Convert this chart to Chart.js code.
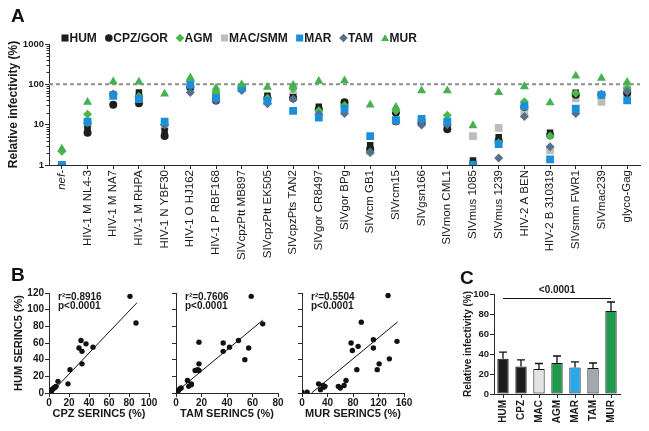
<!DOCTYPE html>
<html><head><meta charset="utf-8">
<script src="https://cdn.jsdelivr.net/npm/chart.js@4.4.1/dist/chart.umd.min.js"></script>
<style>
html,body{margin:0;padding:0;background:#fff;}
#wrap{position:relative;width:649px;height:431px;overflow:hidden;font-family:'Liberation Sans',Arial,sans-serif;}
canvas{position:absolute;}
.pl{position:absolute;font-weight:bold;font-size:19px;color:#111;line-height:1;}
</style></head><body>
<div id="wrap">
<canvas id="cA" width="649" height="262" style="left:0;top:0;width:649px;height:262px"></canvas>
<canvas id="cB1" width="165" height="169" style="left:0;top:262px;width:165px;height:169px"></canvas>
<canvas id="cB2" width="125" height="169" style="left:165px;top:262px;width:125px;height:169px"></canvas>
<canvas id="cB3" width="140" height="169" style="left:290px;top:262px;width:140px;height:169px"></canvas>
<canvas id="cC" width="219" height="169" style="left:430px;top:262px;width:219px;height:169px"></canvas>
<div class="pl" style="left:11px;top:6px">A</div>
<div class="pl" style="left:11px;top:265px">B</div>
<div class="pl" style="left:460px;top:268px">C</div>
</div>
<script>
// ---------- Panel A data ----------
const categoriesA = ['nef-','HIV-1 M NL4-3','HIV-1 M NA7','HIV-1 M RHPA','HIV-1 N YBF30','HIV-1 O HJ162','HIV-1 P RBF168','SIVcpzPtt MB897','SIVcpzPtt EK505','SIVcpzPts TAN2','SIVgor CR8497','SIVgor BPg','SIVrcm GB1','SIVrcm15','SIVgsn166','SIVmon CML1','SIVmus 1085','SIVmus 1239','HIV-2 A BEN','HIV-2 B 310319','SIVsmm FWR1','SIVmac239','glyco-Gag'];
const yTicksA = [1, 10, 100, 1000];
const refLineA = 100;
const HUM = [1, 7.8, 55, 63, 7, 110, 55, 84, 52, 48, 28, 35, 3.1, 12, 12, 9, 1.3, 4.9, 30, 6.3, 62, 55, 70];
const CPZ_GOR = [1, 6.3, 31, 34, 5.2, 85, 40, 80, 45, 45, 24, 36, 2.5, 20, 11, 7.7, 1.1, 4, 28, 5.5, 55, 55, 60];
const AGM = [2.2, 18, 55, 50, 10, 120, 65, 95, 45, 78, 22, 30, 2, 22, 13, 17, 1, 3.5, 37, 5.2, 60, 55, 80];
const MAC_SMM = [1, 10, 55, 48, 9, 85, 50, 85, 40, 54, 20, 30, 2.2, 13, 12, 11, 5.2, 8.3, 21, 2.3, 45, 37, 80];
const MAR = [1, 11.9, 52, 43, 11.9, 97, 46, 80, 39, 22, 15, 25, 5.2, 13, 14, 11.9, 1, 3.3, 29, 1.38, 25, 55, 40];
const TAM = [1, 11, 58, 45, 10, 63, 40, 70, 33, 43, 18, 19, 2.1, 12, 9.8, 10, 1, 1.5, 16, 2.85, 19, 57, 66];
const MUR = [2.5, 36, 117, 115, 58, 145, 81, 98, 85, 95, 120, 123, 31, 27, 70, 70, 9.5, 63, 88, 35, 162, 142, 113];

// ---------- Panel B data ----------
const cpzB  = [81, 87, 32, 37, 30, 33, 44, 33, 21, 9, 19, 7, 6, 5, 4, 3, 2, 1, 0.5, 0, 1.5, 2.5];
const humB1 = [116, 84, 63, 59, 54, 50, 55, 35, 28, 14, 11, 8, 7, 6, 5, 4, 3, 2, 1, 0, 1.5, 2.5];
const tamB  = [59, 68, 18, 37, 49, 42, 37, 57, 54, 18, 15, 17, 18, 9, 10, 12, 12, 1, 2, 3, 4, 1];
const humB2 = [116, 83, 61, 60, 63, 55, 50, 54, 40, 35, 27, 28, 27, 15, 8, 10, 11, 1, 3, 5, 6, 2];
const murB  = [135, 93, 77, 112, 149, 88, 79, 112, 137, 121, 118, 86, 69, 66, 57, 60, 0, 8, 26, 29, 34, 36, 33];
const humB3 = [117, 85, 60, 64, 62, 56, 51, 54, 41, 35, 28, 28, 15, 9, 8, 6, 1, 1, 11, 4, 7, 8, 9];
const fitCPZ = [1.26, -2.5, 1, 88];   // slope, intercept, x from, x to
const fitTAM = [1.27, 1, 0, 68];
const fitMUR = [0.632, -9.5, 15, 150];
const statsCPZ = ['r\u00B2=0.8916', 'p<0.0001'];
const statsTAM = ['r\u00B2=0.7606', 'p<0.0001'];
const statsMUR = ['r\u00B2=0.5504', 'p<0.0001'];
const yTicksB = [0, 20, 40, 60, 80, 100, 120];

// ---------- Panel C data ----------
const barLabelsC = ['HUM', 'CPZ', 'MAC', 'AGM', 'MAR', 'TAM', 'MUR'];
const barValuesC = [35.3, 27.6, 25, 31, 26.6, 26, 83];
const barErrorsC = [6.5, 6.5, 5.5, 7, 5.5, 5, 9];
const sigLevelC = 96;
const sigTextC = '<0.0001';

// ---------- styles ----------
Chart.defaults.font.family = "'Liberation Sans', Arial, sans-serif";
Chart.defaults.color = '#1a1a1a';
const AX = '#2a2a2a';

const seriesA = [
  {name: 'HUM', data: HUM, shape: 'rect', r: 4.6, color: '#1e1e1e', order: 4},
  {name: 'CPZ/GOR', data: CPZ_GOR, shape: 'circle', r: 4, color: '#1e1e1e', order: 5},
  {name: 'AGM', data: AGM, shape: 'rectRot', r: 4.5, color: '#4cb84a', order: 3},
  {name: 'MAC/SMM', data: MAC_SMM, shape: 'rect', r: 5.5, color: '#bdbdbd', order: 6},
  {name: 'MAR', data: MAR, shape: 'rect', r: 5.5, color: '#1b8fd8', order: 1},
  {name: 'TAM', data: TAM, shape: 'rectRot', r: 4.5, color: '#56708c', order: 2},
  {name: 'MUR', data: MUR, shape: 'triangle', r: 5.2, color: '#45b14f', order: 0}
];

function drawMarker(ctx, shape, x, y, r, color) {
  ctx.save();
  ctx.fillStyle = color;
  ctx.beginPath();
  if (shape === 'rect') {
    const s = r * Math.SQRT1_2;
    ctx.rect(x - s, y - s, 2 * s, 2 * s);
  } else if (shape === 'circle') {
    ctx.arc(x, y, r, 0, Math.PI * 2);
  } else if (shape === 'rectRot') {
    ctx.moveTo(x, y - r); ctx.lineTo(x + r, y); ctx.lineTo(x, y + r); ctx.lineTo(x - r, y);
  } else if (shape === 'triangle') {
    for (let k = 0; k < 3; k++) {
      const a = k * 2 * Math.PI / 3;
      const px = x + Math.sin(a) * r, py = y - Math.cos(a) * r;
      if (k === 0) ctx.moveTo(px, py); else ctx.lineTo(px, py);
    }
  }
  ctx.closePath();
  ctx.fill();
  ctx.restore();
}

const panelAPlugin = {
  id: 'panelA',
  beforeDatasetsDraw(chart) {
    const {ctx, chartArea, scales: {y}} = chart;
    const py = y.getPixelForValue(refLineA);
    ctx.save();
    ctx.strokeStyle = '#8c8c8c';
    ctx.lineWidth = 2;
    ctx.setLineDash([4, 3]);
    ctx.beginPath();
    ctx.moveTo(chartArea.left, py);
    ctx.lineTo(chartArea.right, py);
    ctx.stroke();
    ctx.restore();
  },
  afterDraw(chart) {
    const {ctx, chartArea, scales: {y}} = chart;
    // minor log ticks
    ctx.save();
    ctx.strokeStyle = AX;
    ctx.lineWidth = 1;
    ctx.beginPath();
    for (let d = 1; d < 1000; d *= 10) {
      for (let m = 2; m <= 9; m++) {
        const py = Math.round(y.getPixelForValue(m * d)) + 0.5;
        ctx.moveTo(chartArea.left - 2.5, py);
        ctx.lineTo(chartArea.left, py);
      }
    }
    ctx.stroke();
    // legend
    ctx.font = "bold 12px 'Liberation Sans', Arial, sans-serif";
    ctx.textBaseline = 'middle';
    ctx.fillStyle = '#1a1a1a';
    let x = 61.5;
    const ly = 38;
    seriesA.forEach(s => {
      const rr = s.shape === 'rect' ? 5 : (s.shape === 'circle' ? 3.8 : (s.shape === 'triangle' ? 4.6 : 4.3));
      drawMarker(ctx, s.shape, x + 3.5, ly + (s.shape === 'triangle' ? 0.8 : 0), rr, s.color);
      ctx.fillStyle = '#1a1a1a';
      ctx.fillText(s.name, x + 8, ly + 0.5);
      x += 8 + ctx.measureText(s.name).width + 8.5;
    });
    ctx.restore();
  }
};

new Chart(document.getElementById('cA'), {
  type: 'line',
  data: {
    labels: categoriesA,
    datasets: seriesA.map(s => ({
      label: s.name, data: s.data, showLine: false, order: s.order,
      pointStyle: s.shape, pointRadius: s.r, pointHoverRadius: s.r,
      backgroundColor: s.color, borderColor: s.color, pointBorderWidth: 0, borderWidth: 0
    }))
  },
  options: {
    responsive: false, animation: false,
    layout: {padding: {top: 44, right: 9, left: 0, bottom: 0}},
    plugins: {legend: {display: false}, tooltip: {enabled: false}},
    scales: {
      x: {
        type: 'category', offset: true,
        grid: {display: true, drawOnChartArea: false, drawTicks: true, tickLength: 4, color: AX, offset: false},
        border: {display: true, color: AX, width: 1},
        ticks: {autoSkip: false, minRotation: 90, maxRotation: 90, padding: 1, color: '#1a1a1a',
          font: c => ({size: 11.5, style: c.index === 0 ? 'italic' : 'normal'})},
        afterFit: s => { s.height = 97; }
      },
      y: {
        type: 'logarithmic', min: 1, max: 1000,
        afterBuildTicks: s => { s.ticks = yTicksA.map(v => ({value: v})); },
        ticks: {callback: v => String(v), font: {size: 9.5, weight: 'bold'}, padding: 1, color: '#1a1a1a'},
        grid: {display: true, drawOnChartArea: false, tickLength: 4, color: AX},
        border: {display: true, color: AX, width: 1},
        title: {display: true, text: 'Relative infectivity (%)', font: {size: 12, weight: 'bold'}, padding: {top: 6, bottom: 0}, color: '#1a1a1a'},
        afterFit: s => { s.width = 49; }
      }
    }
  },
  plugins: [panelAPlugin]
});

// ---------- Panel B ----------
function statsPlugin(lines) {
  return {
    id: 'stats',
    afterDraw(chart) {
      const {ctx, chartArea} = chart;
      ctx.save();
      ctx.font = "bold 10px 'Liberation Sans', Arial, sans-serif";
      ctx.fillStyle = '#1a1a1a';
      ctx.textBaseline = 'alphabetic';
      ctx.fillText(lines[0], chartArea.left + 9, chartArea.top + 7);
      ctx.fillText(lines[1], chartArea.left + 9, chartArea.top + 16);
      ctx.restore();
    }
  };
}

function makeScatter(id, xs, ys, fit, stats, xMax, xStep, xTitle, showY, leftW, padRight) {
  const pts = xs.map((v, i) => ({x: v, y: ys[i]}));
  const fitPts = [fit[2], fit[3]].map(v => ({x: v, y: fit[0] * v + fit[1]}));
  new Chart(document.getElementById(id), {
    type: 'scatter',
    data: {datasets: [
      {data: pts, pointRadius: 2.7, pointHoverRadius: 2.7, backgroundColor: '#111', borderWidth: 0, order: 0},
      {data: fitPts, showLine: true, borderColor: '#111', borderWidth: 1, pointRadius: 0, order: 1}
    ]},
    options: {
      responsive: false, animation: false,
      layout: {padding: {top: 31, right: padRight, left: 0, bottom: 0}},
      plugins: {legend: {display: false}, tooltip: {enabled: false}},
      scales: {
        x: {
          type: 'linear', min: 0, max: xMax,
          ticks: {stepSize: xStep, font: {size: 10, weight: 'bold'}, padding: 0, color: '#1a1a1a', maxRotation: 0},
          grid: {display: true, drawOnChartArea: false, tickLength: 4, color: AX},
          border: {display: true, color: AX, width: 1},
          title: {display: true, text: xTitle, font: {size: 11, weight: 'bold'}, padding: {top: 0, bottom: 10.5}, color: '#1a1a1a'},
          afterFit: s => { s.height = 38; }
        },
        y: {
          type: 'linear', min: 0, max: 120,
          afterBuildTicks: s => { s.ticks = yTicksB.map(v => ({value: v})); },
          ticks: {callback: v => showY ? String(v) : '', font: {size: 10, weight: 'bold'}, padding: 1, color: '#1a1a1a'},
          grid: {display: true, drawOnChartArea: false, tickLength: 4, color: AX},
          border: {display: true, color: AX, width: 1},
          title: {display: showY, text: 'HUM SERINC5 (%)', font: {size: 11, weight: 'bold'}, padding: {top: 12, bottom: 0}, color: '#1a1a1a'},
          afterFit: s => { s.width = leftW; }
        }
      }
    },
    plugins: [statsPlugin(stats)]
  });
}

makeScatter('cB1', cpzB, humB1, fitCPZ, statsCPZ, 100, 20, 'CPZ SERINC5 (%)', true, 49, 16);
makeScatter('cB2', tamB, humB2, fitTAM, statsTAM, 80, 20, 'TAM SERINC5 (%)', false, 11, 12);
makeScatter('cB3', murB, humB3, fitMUR, statsMUR, 160, 40, 'MUR SERINC5 (%)', false, 12, 26);

// ---------- Panel C ----------
const barColorsC = ['#1c1c1c', '#1c1c1c', '#e2e2e2', '#1f9a4c', '#28a8e8', '#a4a7ab', '#1f9a4c'];
const panelCPlugin = {
  id: 'panelC',
  afterDatasetsDraw(chart) {
    const {ctx, scales: {y}} = chart;
    const meta = chart.getDatasetMeta(0);
    ctx.save();
    ctx.strokeStyle = '#111';
    ctx.lineWidth = 1.3;
    meta.data.forEach((bar, i) => {
      const top = y.getPixelForValue(barValuesC[i] + barErrorsC[i]);
      ctx.beginPath();
      ctx.moveTo(bar.x, bar.y);
      ctx.lineTo(bar.x, top);
      ctx.moveTo(bar.x - 4, top);
      ctx.lineTo(bar.x + 4, top);
      ctx.stroke();
    });
    const ly = Math.round(y.getPixelForValue(sigLevelC)) + 0.5;
    const x0 = meta.data[0].x, x1 = meta.data[meta.data.length - 1].x;
    ctx.lineWidth = 1;
    ctx.beginPath();
    ctx.moveTo(x0, ly);
    ctx.lineTo(x1, ly);
    ctx.stroke();
    ctx.font = "bold 10px 'Liberation Sans', Arial, sans-serif";
    ctx.fillStyle = '#1a1a1a';
    ctx.textAlign = 'center';
    ctx.textBaseline = 'alphabetic';
    ctx.fillText(sigTextC, (x0 + x1) / 2, ly - 5.5);
    ctx.restore();
  }
};

new Chart(document.getElementById('cC'), {
  type: 'bar',
  data: {
    labels: barLabelsC,
    datasets: [{data: barValuesC, backgroundColor: barColorsC, borderColor: '#111', borderWidth: 1,
      barPercentage: 0.63, categoryPercentage: 1, borderSkipped: false}]
  },
  options: {
    responsive: false, animation: false,
    layout: {padding: {top: 32, right: 29, left: 0, bottom: 0}},
    plugins: {legend: {display: false}, tooltip: {enabled: false}},
    scales: {
      x: {
        grid: {display: true, drawOnChartArea: false, tickLength: 4, color: AX, offset: false},
        border: {display: true, color: AX, width: 1},
        ticks: {autoSkip: false, minRotation: 90, maxRotation: 90, padding: 2, color: '#1a1a1a', font: {size: 10, weight: 'bold'}},
        afterFit: s => { s.height = 37; }
      },
      y: {
        min: 0, max: 100,
        ticks: {stepSize: 20, font: {size: 9.5, weight: 'bold'}, padding: 1, color: '#1a1a1a'},
        grid: {display: true, drawOnChartArea: false, tickLength: 4, color: AX},
        border: {display: true, color: AX, width: 1},
        title: {display: true, text: 'Relative infectivity (%)', font: {size: 10, weight: 'bold'}, padding: {top: 32, bottom: 0}, color: '#1a1a1a'},
        afterFit: s => { s.width = 64; }
      }
    }
  },
  plugins: [panelCPlugin]
});
</script>
</body></html>
